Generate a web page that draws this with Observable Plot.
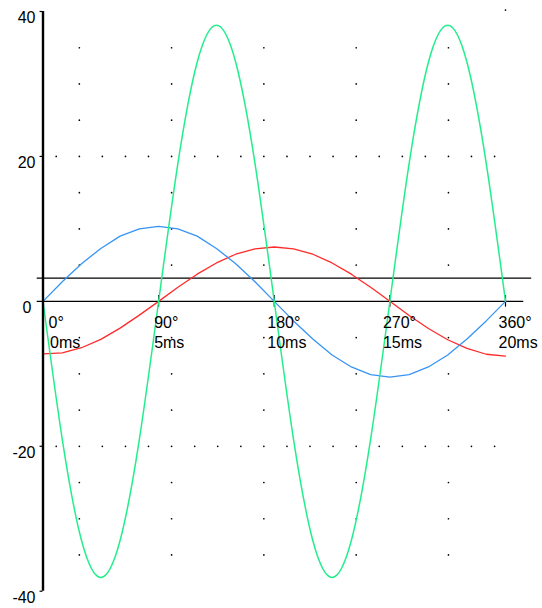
<!DOCTYPE html>
<html>
<head>
<meta charset="utf-8">
<script src="https://cdn.jsdelivr.net/npm/d3@7"></script>
<script src="https://cdn.jsdelivr.net/npm/@observablehq/plot@0.6"></script>
<style>
  html, body { margin: 0; padding: 0; background: #fff; }
  #chart svg { display: block; }
</style>
</head>
<body>
<div id="chart"></div>
<script>
// ---- data ----
const angles = [0,15,30,45,60,75,90,105,120,135,150,165,180,195,210,225,240,255,270,285,300,315,330,345,360];
const blueValues = [0,2.7,5.2,7.3,9.0,10.0,10.35,10.0,9.0,7.3,5.2,2.7,0,-2.7,-5.2,-7.4,-9.05,-10.1,-10.45,-10.1,-9.05,-7.4,-5.2,-2.7,0];
const redValues = [-7.25,-7.1,-6.4,-5.25,-3.7,-1.9,0,1.95,3.75,5.3,6.5,7.25,7.5,7.25,6.5,5.3,3.75,1.95,0,-1.95,-3.75,-5.3,-6.5,-7.3,-7.55];
const greenValues = [0,-19.05,-33.0,-38.1,-33.0,-19.05,0,19.05,33.0,38.1,33.0,19.05,0,-19.05,-33.0,-38.1,-33.0,-19.05,0,19.05,33.0,38.1,33.0,19.05,0];

const yTicks = [40,20,0,-20,-40];
const yTickLabels = ["40","20","0","-20","-40"];
const xTicks = [0,90,180,270,360];
const degLabels = ["0°","90°","180°","270°","360°"];
const msLabels = ["0ms","5ms","10ms","15ms","20ms"];
const refLevel = 3.2;

// dotted background grid
const gridRowValues = [20,-20];
const gridRowDots = [10.3,28.3,46.2,64.2,82.1,100.1,118.1,136.0,154.0,171.9,189.9,207.8,225.8,243.8,261.7,279.7,297.6,315.6,333.5,351.5];
const gridColumns = [28.3,100.1,171.9,243.8,315.6];
const gridColumnValues = [35,30,25,15,10,5,-5,-10,-15,-25,-30,-35];
const cornerDot = [{x:360, y:40.2}];

// ---- tables built from the arrays ----
const series = [];
angles.forEach((a,i)=>{
  series.push({a, v: blueValues[i], s:"blue"});
  series.push({a, v: redValues[i], s:"red"});
  series.push({a, v: greenValues[i], s:"green"});
});
const dots = [];
gridRowValues.forEach(y=>gridRowDots.forEach(x=>dots.push({x,y})));
gridColumns.forEach(x=>gridColumnValues.forEach(y=>dots.push({x,y})));
cornerDot.forEach(d=>dots.push(d));

const idx = xTicks.map((d,i)=>i);
const yIdx = yTicks.map((d,i)=>i);
const font = "Liberation Sans, Arial, sans-serif";

const chart = Plot.plot({
  width: 542,
  height: 608,
  marginLeft: 42.5,
  marginRight: 37,
  marginTop: 11,
  marginBottom: 17.3,
  style: {fontFamily: font, background: "#fff", overflow: "visible"},
  x: {domain: [0,360], axis: null},
  y: {domain: [-40,40], axis: null},
  marks: [
    Plot.dot(dots, {x:"x", y:"y", r:0.85, fill:"#000", stroke:"none"}),
    Plot.ruleY([refLevel], {x1:-4.5, x2:380.4, stroke:"#000", strokeWidth:1.2}),
    Plot.ruleY([0], {x1:-4.5, x2:374.2, stroke:"#000", strokeWidth:1.2}),
    Plot.ruleX(xTicks.slice(1), {y1:-0.8, y2:0.8, stroke:"#000", strokeWidth:1.2}),
    Plot.line(series.filter(d=>d.s==="red"), {x:"a", y:"v", stroke:"#ff2a2a", strokeWidth:1.3}),
    Plot.line(series.filter(d=>d.s==="blue"), {x:"a", y:"v", stroke:"#3794f5", strokeWidth:1.3}),
    Plot.line(series.filter(d=>d.s==="green"), {x:"a", y:"v", stroke:"#22ee8c", strokeWidth:1.5, curve:"natural"}),
    Plot.ruleX([0], {y1:-40, y2:40, stroke:"#000", strokeWidth:2.4}),
    Plot.ruleY(yTicks.filter(d=>d!==0), {x1:-2.3, x2:0, stroke:"#000", strokeWidth:1.2}),
    Plot.text(yIdx.filter(i=>yTicks[i]!==0), {x:()=>0, y:i=>yTicks[i], text:i=>yTickLabels[i], textAnchor:"end", dx:-7.5, dy:6.5, fontSize:16, fill:"#000"}),
    Plot.text(yIdx.filter(i=>yTicks[i]===0), {x:()=>0, y:i=>yTicks[i], text:i=>yTickLabels[i], textAnchor:"end", dx:-11.5, dy:6.5, fontSize:16, fill:"#000"}),
    // x labels
    Plot.text(idx.filter(i=>i===0), {x:i=>xTicks[i], y:()=>0, text:i=>degLabels[i], textAnchor:"start", dx:5.5, dy:21.5, fontSize:16, fill:"#000"}),
    Plot.text(idx.filter(i=>i===0), {x:i=>xTicks[i], y:()=>0, text:i=>msLabels[i], textAnchor:"start", dx:7, dy:41.5, fontSize:16, fill:"#000"}),
    Plot.text(idx.filter(i=>i===1), {x:i=>xTicks[i], y:()=>0, text:i=>degLabels[i], textAnchor:"start", dx:-4.5, dy:21.5, fontSize:16, fill:"#000"}),
    Plot.text(idx.filter(i=>i===1), {x:i=>xTicks[i], y:()=>0, text:i=>msLabels[i], textAnchor:"start", dx:-4.5, dy:41.5, fontSize:16, fill:"#000"}),
    Plot.text(idx.filter(i=>i>=2), {x:i=>xTicks[i], y:()=>0, text:i=>degLabels[i], textAnchor:"start", dx:-7, dy:21.5, fontSize:16, fill:"#000"}),
    Plot.text(idx.filter(i=>i>=2), {x:i=>xTicks[i], y:()=>0, text:i=>msLabels[i], textAnchor:"start", dx:-7, dy:41.5, fontSize:16, fill:"#000"})
  ]
});
document.getElementById("chart").appendChild(chart);
</script>
</body>
</html>
